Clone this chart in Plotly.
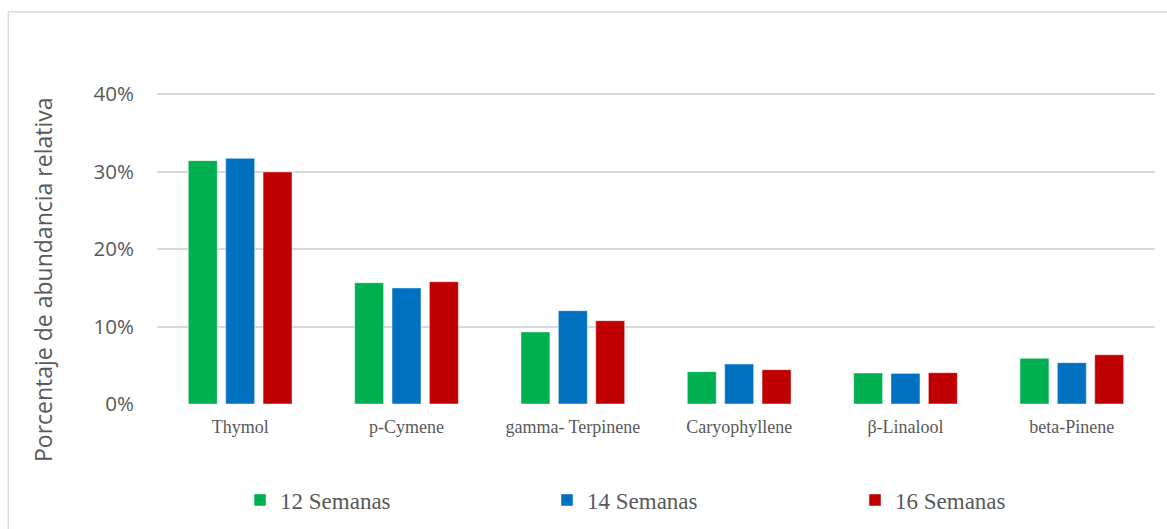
import plotly.graph_objects as go

# Relative abundance (%) of the main essential-oil compounds by harvest age
compounds = ["Thymol", "p-Cymene", "gamma- Terpinene", "Caryophyllene", "β-Linalool", "beta-Pinene"]
series_names = ["12 Semanas", "14 Semanas", "16 Semanas"]
weeks_12 = [31.4, 15.65, 9.3, 4.17, 4.0, 5.9]
weeks_14 = [31.7, 14.97, 12.04, 5.16, 3.95, 5.33]
weeks_16 = [29.94, 15.78, 10.75, 4.43, 4.04, 6.36]
colors = ["#00B050", "#0070C0", "#C00000"]
y_ticks = [0, 10, 20, 30, 40]
y_tick_text = ["0%", "10%", "20%", "30%", "40%"]

GRAY_TEXT = "#595959"
GRID = "#D9D9D9"
SERIF = "Liberation Serif, Times New Roman, serif"
SANS = "Open Sans, sans-serif"

# one single-entry legend per series, spread along the bottom
legend_ids = ["legend", "legend2", "legend3"]
legend_x = [0.0832, 0.3908, 0.6994]

fig = go.Figure()
for name, vals, col, lg in zip(series_names, [weeks_12, weeks_14, weeks_16], colors, legend_ids):
    fig.add_trace(go.Bar(
        x=compounds, y=vals, name=name, legend=lg,
        marker=dict(color=col, line=dict(color="rgba(255,255,255,0.45)", width=1)),
    ))

legend_style = dict(
    orientation="h", xanchor="left",
    yref="container", y=0.0548, yanchor="middle",
    font=dict(family=SERIF, size=23, color=GRAY_TEXT),
    bgcolor="rgba(0,0,0,0)",
)

fig.update_layout(
    width=1167, height=529,
    margin=dict(l=157, r=12, t=93, b=125),
    paper_bgcolor="white", plot_bgcolor="white",
    font=dict(family=SERIF, color=GRAY_TEXT),
    barmode="group", bargap=0.326, bargroupgap=0.225,
    showlegend=True,
    legend=dict(x=legend_x[0], **legend_style),
    legend2=dict(x=legend_x[1], **legend_style),
    legend3=dict(x=legend_x[2], **legend_style),
    xaxis=dict(
        showgrid=False, showline=False, zeroline=False,
        tickfont=dict(family=SERIF, size=18, color=GRAY_TEXT),
        ticklabelstandoff=10,
    ),
    yaxis=dict(
        range=[0, 40.13], tickvals=y_ticks, ticktext=y_tick_text,
        showgrid=True, gridcolor=GRID, gridwidth=1.5,
        zeroline=False, showline=False,
        tickfont=dict(family=SANS, size=20.5, color=GRAY_TEXT),
        ticklabelstandoff=22,
    ),
    annotations=[
        dict(text="Porcentaje de abundancia relativa", textangle=-90,
             xref="paper", yref="paper", x=-0.1142, y=0.3987,
             xanchor="center", yanchor="middle", showarrow=False,
             font=dict(family=SANS, size=23, color=GRAY_TEXT)),
    ],
    shapes=[
        # chart frame (top and left edges; the rest runs off the page)
        dict(type="line", xref="paper", yref="paper", x0=-0.149, x1=1.2, y0=1.2614, y1=1.2614,
             line=dict(color=GRID, width=1.5)),
        dict(type="line", xref="paper", yref="paper", x0=-0.149, x1=-0.149, y0=1.2614, y1=-0.5,
             line=dict(color=GRID, width=1.5)),
    ],
)

fig.write_html("out.html")
